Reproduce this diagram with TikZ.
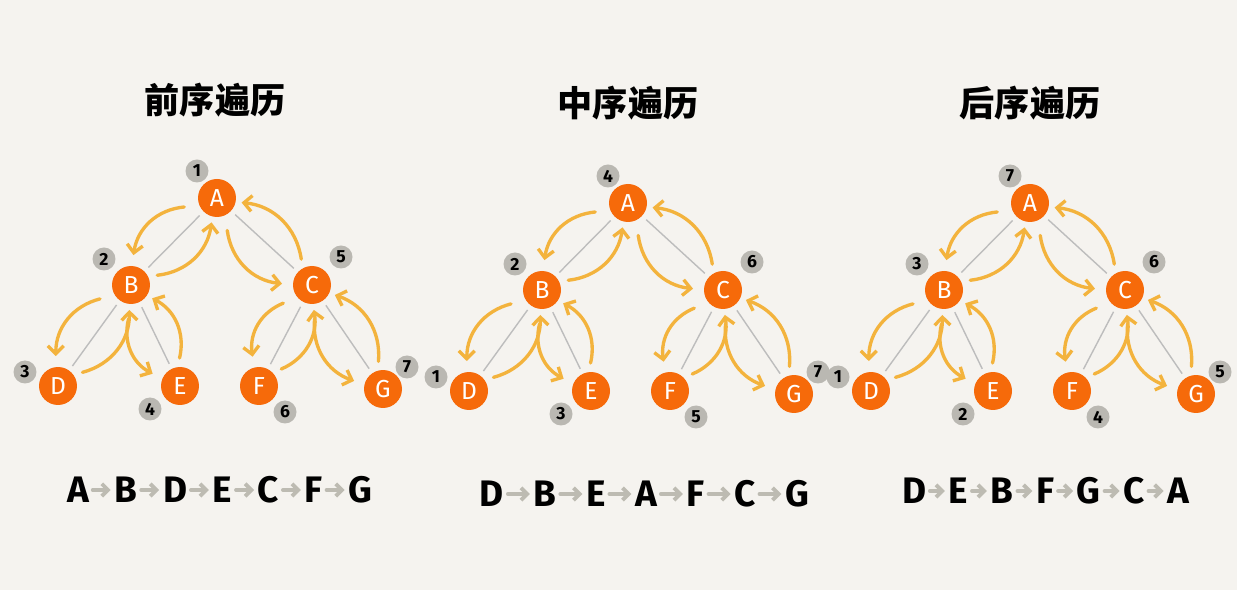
\documentclass[tikz,border=0pt]{standalone}
\usepackage{fontspec}
\setmainfont{Fira Sans}
\newfontfamily\cjk{Noto Sans CJK SC}
\usetikzlibrary{arrows.meta,calc,positioning}

\definecolor{paper}{HTML}{F5F3EF}
\definecolor{nodeorange}{HTML}{F66A0A}
\definecolor{tourgold}{HTML}{F3B33D}
\definecolor{edgegray}{HTML}{BDBDBD}
\definecolor{badgegray}{HTML}{BAB8B2}
\definecolor{seqgray}{HTML}{BDBBB2}

\tikzset{
  treenode/.style={circle, fill=nodeorange, minimum size=0.76cm, inner sep=0pt,
    text=white, font=\fontsize{14}{14}\selectfont},
  badge/.style={circle, fill=badgegray, minimum size=0.46cm, inner sep=0pt,
    font=\bfseries\fontsize{10}{10}\selectfont},
  treeline/.style={edgegray, line width=0.8pt, shorten <=3pt, shorten >=3pt},
  tourline/.style={tourgold, line width=1.9pt, line cap=round,
    -{Straight Barb[length=4.5pt,width=9pt]}},
  seqletter/.style={inner sep=0pt, font=\bfseries\fontsize{21}{21}\selectfont},
  seqarrow/.style={seqgray, line width=2.2pt, line cap=round,
    -{Straight Barb[length=3.5pt,width=7pt]}, shorten <=2pt, shorten >=2pt},
  title/.style={font=\cjk\bfseries\fontsize{20}{24}\selectfont},
}

% down the left side, back up the right side
\newcommand\tourpair[2]{%
  \draw[tourline] ($(#1)!0.68cm!-30:(#2)$) to[bend right=38] ($(#2)!0.6cm!40:(#1)$);
  \draw[tourline] ($(#2)!0.56cm!-25:(#1)$) to[bend right=38] ($(#1)!0.5cm!32:(#2)$);
}

% prefix, position of A, visit numbers of A..G
\newcommand\traversaltree[9]{%
  \node[treenode] (#1A) at (#2) {A};
  \node[treenode] (#1B) at ($(#1A)+(-86,-87)$) {B};
  \node[treenode] (#1C) at ($(#1A)+(95,-87)$) {C};
  \node[treenode] (#1D) at ($(#1A)+(-159,-188)$) {D};
  \node[treenode] (#1E) at ($(#1A)+(-37,-188)$) {E};
  \node[treenode] (#1F) at ($(#1A)+(42,-188)$) {F};
  \node[treenode] (#1G) at ($(#1A)+(166,-191)$) {G};
  \foreach \p/\c in {A/B,A/C,B/D,B/E,C/F,C/G} {
    \draw[treeline] (#1\p) -- (#1\c);
    \tourpair{#1\p}{#1\c}
  }
  \node[badge] (#1nA) at ($(#1A)+(-20,27)$) {#3};
  \node[badge] (#1nB) at ($(#1B)+(-27,26)$) {#4};
  \node[badge] (#1nC) at ($(#1C)+(29,28)$) {#5};
  \node[badge] (#1nD) at ($(#1D)+(-33,14)$) {#6};
  \node[badge] (#1nE) at ($(#1E)+(-30,-23)$) {#7};
  \node[badge] (#1nF) at ($(#1F)+(26,-26)$) {#8};
  \node[badge] (#1nG) at ($(#1G)+(24,22)$) {#9};
}

% prefix, centre of first letter, gap, first letter, other letters
\newcommand\travorder[5]{%
  \node[seqletter] (#11) at (#2) {#4};
  \foreach \l [count=\i from 2, remember=\i as \j (initially 1)] in {#5}
    \node[seqletter, right=#3 of #1\j] (#1\i) {\l};
  \foreach \i [remember=\i as \j (initially 1)] in {2,...,7}
    \draw[seqarrow] (#1\j) -- (#1\i);
}

\begin{document}
\begin{tikzpicture}[x=0.02cm, y=0.02cm]
  \fill[paper] (0,0) rectangle (1237,-590);
  \useasboundingbox (0,0) rectangle (1237,-590);

  \node[title] (pretitle) at (215,-100) {前序遍历};
  \node[title] (intitle) at (628,-103) {中序遍历};
  \node[title] (posttitle) at (1030,-103) {后序遍历};

  \traversaltree{pre}{217,-198}{1}{2}{5}{3}{4}{6}{7}
  \traversaltree{in}{628,-203}{4}{2}{6}{1}{3}{5}{7}
  \traversaltree{post}{1030,-203}{7}{3}{6}{1}{2}{4}{5}

  \travorder{preord}{78,-490}{0.5cm}{A}{B,D,E,C,F,G}
  \travorder{inord}{492,-494}{0.58cm}{D}{B,E,A,F,C,G}
  \travorder{postord}{914,-491}{0.44cm}{D}{E,B,F,G,C,A}
\end{tikzpicture}
\end{document}
